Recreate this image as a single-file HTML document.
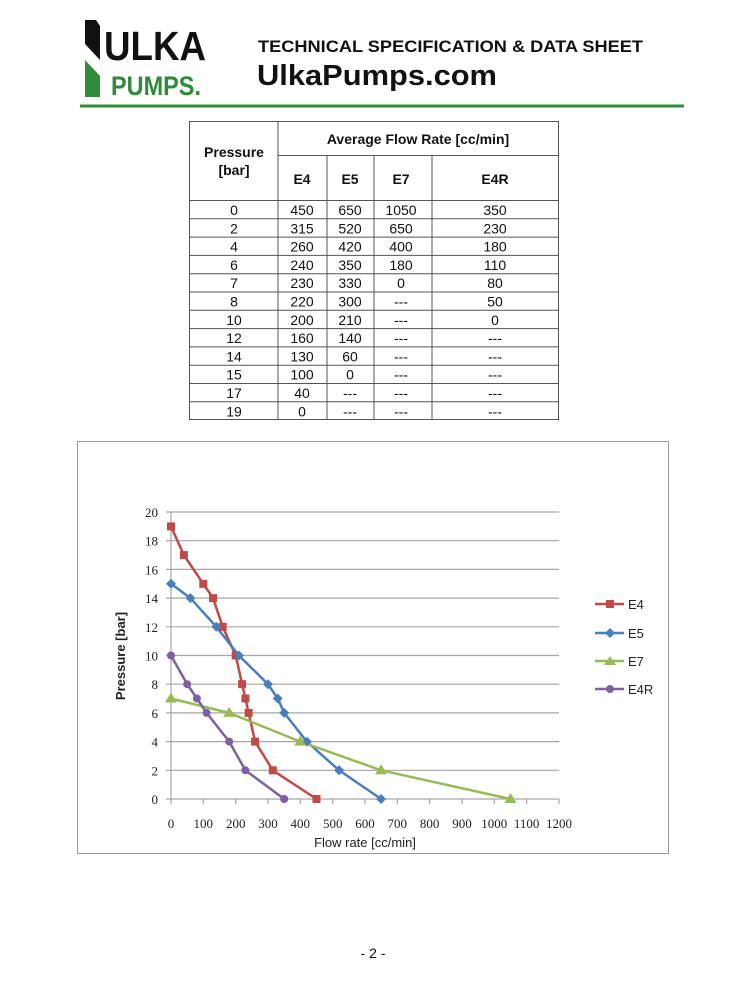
<!DOCTYPE html><html><head><style>body{margin:0;background:#fff}svg{display:block}</style></head><body>
<svg width="745" height="1000" xmlns="http://www.w3.org/2000/svg" font-family="Liberation Sans, Arial, sans-serif">
<rect width="745" height="1000" fill="#fff"/>
<!-- logo -->
<polygon points="85,20 96,20 100,26 100,60 85,44" fill="#111"/>
<polygon points="85,60 100,76 100,97 85,97" fill="#2f8a3a"/>
<text x="104" y="60" font-size="41" font-weight="bold" fill="#111" textLength="102" lengthAdjust="spacingAndGlyphs">ULKA</text>
<text x="111" y="95" font-size="27" font-weight="bold" fill="#2f8a3a" textLength="90" lengthAdjust="spacingAndGlyphs">PUMPS.</text>
<text x="258" y="52" font-size="17" font-weight="bold" fill="#111" textLength="385" lengthAdjust="spacingAndGlyphs">TECHNICAL SPECIFICATION &amp; DATA SHEET</text>
<text x="257" y="85" font-size="29" font-weight="bold" fill="#111" textLength="240" lengthAdjust="spacingAndGlyphs">UlkaPumps.com</text>
<rect x="80" y="104.5" width="604" height="3" fill="#2f8a3a"/>
<!-- table -->
<g stroke="#555" stroke-width="1" fill="none">
<rect x="189.5" y="121.5" width="369" height="298"/>
<line x1="278" y1="155.5" x2="558" y2="155.5"/>
<line x1="189" y1="200.5" x2="558" y2="200.5"/>
<line x1="278" y1="121" x2="278" y2="419"/>
<line x1="327" y1="155" x2="327" y2="419"/>
<line x1="374" y1="155" x2="374" y2="419"/>
<line x1="432" y1="155" x2="432" y2="419"/>
</g>
<g stroke="#555" stroke-width="1" id="rl">
<line x1="189" x2="558" y1="218.8" y2="218.8"/><line x1="189" x2="558" y1="237.1" y2="237.1"/>
<line x1="189" x2="558" y1="255.4" y2="255.4"/><line x1="189" x2="558" y1="273.7" y2="273.7"/>
<line x1="189" x2="558" y1="292" y2="292"/><line x1="189" x2="558" y1="310.3" y2="310.3"/>
<line x1="189" x2="558" y1="328.6" y2="328.6"/><line x1="189" x2="558" y1="346.9" y2="346.9"/>
<line x1="189" x2="558" y1="365.2" y2="365.2"/><line x1="189" x2="558" y1="383.5" y2="383.5"/>
<line x1="189" x2="558" y1="401.8" y2="401.8"/>
</g>
<g font-size="14" font-weight="bold" fill="#111" text-anchor="middle">
<text x="234" y="157">Pressure</text><text x="234" y="175">[bar]</text>
<text x="418" y="144">Average Flow Rate [cc/min]</text>
<text x="302" y="184">E4</text><text x="350" y="184">E5</text><text x="401" y="184">E7</text><text x="495" y="184">E4R</text>
</g>
<g font-size="14" fill="#111" text-anchor="middle">
<text y="215"><tspan x="234">0</tspan><tspan x="302">450</tspan><tspan x="350">650</tspan><tspan x="401">1050</tspan><tspan x="495">350</tspan></text>
<text y="233.3"><tspan x="234">2</tspan><tspan x="302">315</tspan><tspan x="350">520</tspan><tspan x="401">650</tspan><tspan x="495">230</tspan></text>
<text y="251.6"><tspan x="234">4</tspan><tspan x="302">260</tspan><tspan x="350">420</tspan><tspan x="401">400</tspan><tspan x="495">180</tspan></text>
<text y="269.9"><tspan x="234">6</tspan><tspan x="302">240</tspan><tspan x="350">350</tspan><tspan x="401">180</tspan><tspan x="495">110</tspan></text>
<text y="288.2"><tspan x="234">7</tspan><tspan x="302">230</tspan><tspan x="350">330</tspan><tspan x="401">0</tspan><tspan x="495">80</tspan></text>
<text y="306.5"><tspan x="234">8</tspan><tspan x="302">220</tspan><tspan x="350">300</tspan><tspan x="401">---</tspan><tspan x="495">50</tspan></text>
<text y="324.8"><tspan x="234">10</tspan><tspan x="302">200</tspan><tspan x="350">210</tspan><tspan x="401">---</tspan><tspan x="495">0</tspan></text>
<text y="343.1"><tspan x="234">12</tspan><tspan x="302">160</tspan><tspan x="350">140</tspan><tspan x="401">---</tspan><tspan x="495">---</tspan></text>
<text y="361.4"><tspan x="234">14</tspan><tspan x="302">130</tspan><tspan x="350">60</tspan><tspan x="401">---</tspan><tspan x="495">---</tspan></text>
<text y="379.7"><tspan x="234">15</tspan><tspan x="302">100</tspan><tspan x="350">0</tspan><tspan x="401">---</tspan><tspan x="495">---</tspan></text>
<text y="398"><tspan x="234">17</tspan><tspan x="302">40</tspan><tspan x="350">---</tspan><tspan x="401">---</tspan><tspan x="495">---</tspan></text>
<text y="416.3"><tspan x="234">19</tspan><tspan x="302">0</tspan><tspan x="350">---</tspan><tspan x="401">---</tspan><tspan x="495">---</tspan></text>
</g>
<!-- chart -->
<rect x="77.5" y="441.5" width="591" height="412" fill="#fff" stroke="#999"/>
<g stroke="#a6a6a6" stroke-width="1.2">
<line x1="166" x2="559" y1="512" y2="512"/><line x1="166" x2="559" y1="540.7" y2="540.7"/>
<line x1="166" x2="559" y1="569.4" y2="569.4"/><line x1="166" x2="559" y1="598.1" y2="598.1"/>
<line x1="166" x2="559" y1="626.8" y2="626.8"/><line x1="166" x2="559" y1="655.5" y2="655.5"/>
<line x1="166" x2="559" y1="684.2" y2="684.2"/><line x1="166" x2="559" y1="712.9" y2="712.9"/>
<line x1="166" x2="559" y1="741.6" y2="741.6"/><line x1="166" x2="559" y1="770.3" y2="770.3"/>
<line x1="166" x2="559" y1="799" y2="799"/>
<line x1="171" x2="171" y1="512" y2="804"/>
<path d="M203.3 799v5M235.7 799v5M268 799v5M300.3 799v5M332.7 799v5M365 799v5M397.3 799v5M429.6 799v5M462 799v5M494.3 799v5M526.6 799v5M559 799v5"/>
</g>
<g font-family="Liberation Serif, serif" font-size="13" fill="#222" text-anchor="end">
<text x="158" y="517">20</text><text x="158" y="545.7">18</text><text x="158" y="574.4">16</text><text x="158" y="603.1">14</text><text x="158" y="631.8">12</text><text x="158" y="660.5">10</text><text x="158" y="689.2">8</text><text x="158" y="717.9">6</text><text x="158" y="746.6">4</text><text x="158" y="775.3">2</text><text x="158" y="804">0</text>
</g>
<g font-family="Liberation Serif, serif" font-size="13" fill="#222" text-anchor="middle">
<text y="828"><tspan x="171">0</tspan><tspan x="203.3">100</tspan><tspan x="235.7">200</tspan><tspan x="268">300</tspan><tspan x="300.3">400</tspan><tspan x="332.7">500</tspan><tspan x="365">600</tspan><tspan x="397.3">700</tspan><tspan x="429.6">800</tspan><tspan x="462">900</tspan><tspan x="494.3">1000</tspan><tspan x="526.6">1100</tspan><tspan x="559">1200</tspan></text>
</g>
<text x="365" y="847" font-size="13" text-anchor="middle" fill="#222">Flow rate [cc/min]</text>
<text transform="translate(125,656) rotate(-90)" font-size="13" font-weight="bold" text-anchor="middle" fill="#222">Pressure [bar]</text>
<g fill="none" stroke-width="2.5">
<polyline stroke="#be4b48" points="316.5,799 272.8,770.3 255.1,741.6 248.6,712.9 245.4,698.5 242.1,684.2 235.7,655.5 222.7,626.8 213,598.1 203.3,583.8 183.9,555.1 171,526.4"/>
<polyline stroke="#4a7ebb" points="381.1,799 339.1,770.3 306.8,741.6 284.2,712.9 277.7,698.5 268,684.2 238.9,655.5 216.3,626.8 190.4,598.1 171,583.8"/>
<polyline stroke="#98b954" points="510.5,799 381.1,770.3 300.3,741.6 229.2,712.9 171,698.5"/>
<polyline stroke="#7d60a0" points="284.2,799 245.4,770.3 229.2,741.6 206.6,712.9 196.9,698.5 187.2,684.2 171,655.5"/>
</g>
<g fill="#be4b48">
<rect x="312.5" y="795" width="8" height="8"/><rect x="268.8" y="766.3" width="8" height="8"/><rect x="251.1" y="737.6" width="8" height="8"/><rect x="244.6" y="708.9" width="8" height="8"/><rect x="241.4" y="694.5" width="8" height="8"/><rect x="238.1" y="680.2" width="8" height="8"/><rect x="231.7" y="651.5" width="8" height="8"/><rect x="218.7" y="622.8" width="8" height="8"/><rect x="209" y="594.1" width="8" height="8"/><rect x="199.3" y="579.8" width="8" height="8"/><rect x="179.9" y="551.1" width="8" height="8"/><rect x="167" y="522.4" width="8" height="8"/>
</g>
<g fill="#4a7ebb">
<polygon points="381.1,794 386.1,799 381.1,804 376.1,799"/><polygon points="339.1,765.3 344.1,770.3 339.1,775.3 334.1,770.3"/><polygon points="306.8,736.6 311.8,741.6 306.8,746.6 301.8,741.6"/><polygon points="284.2,707.9 289.2,712.9 284.2,717.9 279.2,712.9"/><polygon points="277.7,693.5 282.7,698.5 277.7,703.5 272.7,698.5"/><polygon points="268,679.2 273,684.2 268,689.2 263,684.2"/><polygon points="238.9,650.5 243.9,655.5 238.9,660.5 233.9,655.5"/><polygon points="216.3,621.8 221.3,626.8 216.3,631.8 211.3,626.8"/><polygon points="190.4,593.1 195.4,598.1 190.4,603.1 185.4,598.1"/><polygon points="171,578.8 176,583.8 171,588.8 166,583.8"/>
</g>
<g fill="#98b954">
<polygon points="510.5,793 516.5,803 504.5,803"/><polygon points="381.1,764.3 387.1,774.3 375.1,774.3"/><polygon points="300.3,735.6 306.3,745.6 294.3,745.6"/><polygon points="229.2,706.9 235.2,716.9 223.2,716.9"/><polygon points="171,692.5 177,702.5 165,702.5"/>
</g>
<g fill="#7d60a0">
<circle cx="284.2" cy="799" r="4"/><circle cx="245.4" cy="770.3" r="4"/><circle cx="229.2" cy="741.6" r="4"/><circle cx="206.6" cy="712.9" r="4"/><circle cx="196.9" cy="698.5" r="4"/><circle cx="187.2" cy="684.2" r="4"/><circle cx="171" cy="655.5" r="4"/>
</g>
<!-- legend -->
<g stroke-width="2.5">
<line x1="595" x2="624" y1="604" y2="604" stroke="#be4b48"/><rect x="606" y="600" width="8" height="8" fill="#be4b48"/>
<line x1="595" x2="624" y1="633" y2="633" stroke="#4a7ebb"/><polygon points="610,628 615,633 610,638 605,633" fill="#4a7ebb"/>
<line x1="595" x2="624" y1="661" y2="661" stroke="#98b954"/><polygon points="610,656 616,665 604,665" fill="#98b954"/>
<line x1="595" x2="624" y1="689" y2="689" stroke="#7d60a0"/><circle cx="610" cy="689" r="4" fill="#7d60a0"/>
</g>
<g font-size="13" fill="#222">
<text x="628" y="609">E4</text><text x="628" y="638">E5</text><text x="628" y="666">E7</text><text x="628" y="694">E4R</text>
</g>
<text x="373" y="958" font-size="14" text-anchor="middle" fill="#111">- 2 -</text>
</svg>
</body></html>
